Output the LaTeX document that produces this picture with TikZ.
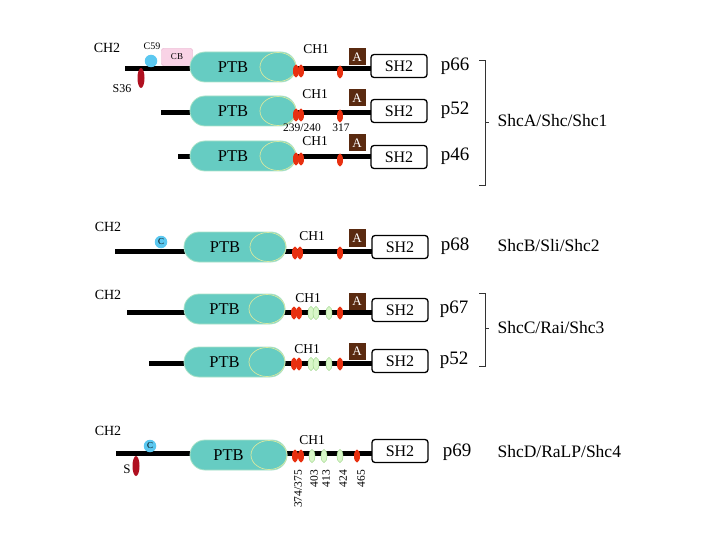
\documentclass[tikz,border=0pt]{standalone}
\usepackage{fontspec}
\setmainfont{Liberation Serif}
\usetikzlibrary{shapes.geometric}
\definecolor{ptbc}{RGB}{102,204,194}
\definecolor{ptbedge}{RGB}{170,226,200}
\definecolor{ptbinner}{RGB}{215,232,160}
\definecolor{redc}{RGB}{232,48,16}
\definecolor{darkredc}{RGB}{176,16,32}
\definecolor{cyanc}{RGB}{91,200,240}
\definecolor{pinkc}{RGB}{249,211,230}
\definecolor{pinkedge}{RGB}{229,168,200}
\definecolor{brownc}{RGB}{90,42,16}
\definecolor{greenc}{RGB}{216,246,200}
\definecolor{greenedge}{RGB}{150,210,130}
\tikzset{
  bb/.style={line width=5pt, black},
  ptbs/.style={fill=ptbc, draw=ptbedge, line width=0.8pt, rounded corners=15pt},
  ptbin/.style={draw=ptbinner, line width=0.7pt},
  redo/.style={ellipse, fill=redc, minimum width=6pt, minimum height=13pt, inner sep=0pt},
  greeno/.style={ellipse, fill=greenc, draw=greenedge, line width=0.4pt, minimum width=6pt, minimum height=13pt, inner sep=0pt},
  darko/.style={ellipse, fill=darkredc, minimum width=7pt, minimum height=20pt, inner sep=0pt},
  cyo/.style={circle, fill=cyanc, minimum size=12.5pt, inner sep=0pt, font=\fontsize{9}{9}\selectfont},
  abox/.style={fill=brownc, text=white, minimum width=17pt, minimum height=17pt, inner sep=0pt, font=\fontsize{13}{13}\selectfont},
  shtwo/.style={draw=black, fill=white, line width=1.3pt, rounded corners=3pt, minimum width=56pt, minimum height=23pt, inner sep=0pt, font=\fontsize{16}{16}\selectfont},
  chl/.style={font=\fontsize{13.5}{13.5}\selectfont},
  ch2/.style={font=\fontsize{14}{14}\selectfont},
  pl/.style={font=\fontsize{19}{19}\selectfont},
  fam/.style={anchor=west, font=\fontsize{17.5}{17.5}\selectfont},
  num/.style={font=\fontsize{11.5}{11.5}\selectfont, inner sep=0pt},
  rnum/.style={num, rotate=90, anchor=east},
  brk/.style={line width=0.6pt, black!80}
}
\newcommand\ptbdomain[5]{%
  \draw[ptbs] (#2,#4-15) rectangle (#3,#4+15);
  \draw[ptbin] ({#3-18},#4) ellipse (18 and 14.5);
  \node[font=\fontsize{16.5}{16.5}\selectfont] (#1) at ({(#2+#3)/2-10},#4) {#5};
}
\begin{document}
\begin{tikzpicture}[x=1pt,y=-1pt]
\useasboundingbox (0,0) rectangle (720,540);

% ---------- Row 1: p66 ----------
\coordinate (r1s) at (125,69);
\coordinate (r1e) at (380,69);
\draw[bb] (r1s) -- (r1e);
\node[ch2] (ch2a) at (107,48) {CH2};
\node[font=\fontsize{10}{10}\selectfont] (c59l) at (152,46) {C59};
\node[cyo] (c59) at (151,61) {};
\node[draw=pinkedge, fill=pinkc, rounded corners=2pt, minimum width=31pt, minimum height=17pt, inner sep=0pt, font=\fontsize{9}{9}\selectfont] (cb) at (177,57) {CB};
\node[darko] (s36) at (141,78) {};
\node[font=\fontsize{12}{12}\selectfont] (s36l) at (122,89) {S36};
\ptbdomain{ptb1}{190}{296}{67}{PTB}
\node[redo] (r1a) at (296,71) {};
\node[redo] (r1b) at (301,71) {};
\node[redo] (r1c) at (340,72) {};
\node[chl] (ch1a) at (316,49) {CH1};
\node[abox] (a1) at (357,57) {A};
\node[shtwo] (sh1) at (399,66) {SH2};
\node[pl] (p66) at (455,66) {p66};

% ---------- Row 2: p52 ----------
\coordinate (r2s) at (161,113);
\coordinate (r2e) at (380,113);
\draw[bb] (r2s) -- (r2e);
\ptbdomain{ptb2}{190}{296}{111}{PTB}
\node[redo] (r2a) at (296,115) {};
\node[redo] (r2b) at (301,115) {};
\node[redo] (r2c) at (340,116) {};
\node[chl] (ch1b) at (315,94) {CH1};
\node[abox] (a2) at (357,98) {A};
\node[shtwo] (sh2) at (399,111) {SH2};
\node[pl] (p52a) at (455,110) {p52};
\node[num] (n239) at (302,127.5) {239/240};
\node[num] (n317) at (341,127.5) {317};

% ---------- Row 3: p46 ----------
\coordinate (r3s) at (178,157);
\coordinate (r3e) at (380,157);
\draw[bb] (r3s) -- (r3e);
\ptbdomain{ptb3}{190}{296}{156}{PTB}
\node[redo] (r3a) at (296,159) {};
\node[redo] (r3b) at (301,159) {};
\node[redo] (r3c) at (340,160) {};
\node[chl] (ch1c) at (315,141) {CH1};
\node[abox] (a3) at (357,143) {A};
\node[shtwo] (sh3) at (399,157) {SH2};
\node[pl] (p46) at (455,156) {p46};

% bracket ShcA
\coordinate (ba1) at (479,60);
\coordinate (ba2) at (485,60);
\coordinate (ba3) at (485,185);
\coordinate (ba4) at (479,185);
\draw[brk] (ba1) -- (ba2) -- (ba3) -- (ba4);
\coordinate (bam) at (485,122);
\coordinate (bamt) at (489,122);
\draw[brk] (bam) -- (bamt);
\node[fam] (shca) at (494,121) {ShcA/Shc/Shc1};

% ---------- Row 4: p68 ----------
\coordinate (r4s) at (115,251);
\coordinate (r4e) at (380,251);
\draw[bb] (r4s) -- (r4e);
\node[ch2] (ch2b) at (108,227) {CH2};
\node[cyo] (cb4) at (161,242) {C};
\ptbdomain{ptb4}{184}{286}{247}{PTB}
\node[redo] (r4a) at (295,253) {};
\node[redo] (r4b) at (300,253) {};
\node[redo] (r4c) at (340,253) {};
\node[chl] (ch1d) at (312,236) {CH1};
\node[abox] (a4) at (357,238) {A};
\node[shtwo] (sh4) at (400,247) {SH2};
\node[pl] (p68) at (455,246) {p68};
\node[fam] (shcb) at (494,246) {ShcB/Sli/Shc2};

% ---------- Row 5: p67 ----------
\coordinate (r5s) at (127,312);
\coordinate (r5e) at (380,312);
\draw[bb] (r5s) -- (r5e);
\node[ch2] (ch2c) at (108,295) {CH2};
\ptbdomain{ptb5}{184}{285}{309}{PTB}
\node[redo] (r5a) at (294,313) {};
\node[redo] (r5b) at (299,313) {};
\node[greeno] (g5a) at (311,313) {};
\node[greeno] (g5b) at (316,313) {};
\node[greeno] (g5c) at (329,313) {};
\node[redo] (r5c) at (340,313) {};
\node[chl] (ch1e) at (308,298) {CH1};
\node[abox] (a5) at (357,301) {A};
\node[shtwo] (sh5) at (400,310) {SH2};
\node[pl] (p67) at (454,309) {p67};

% ---------- Row 6: p52 ----------
\coordinate (r6s) at (149,363);
\coordinate (r6e) at (380,363);
\draw[bb] (r6s) -- (r6e);
\ptbdomain{ptb6}{184}{285}{362}{PTB}
\node[redo] (r6a) at (294,364) {};
\node[redo] (r6b) at (299,364) {};
\node[greeno] (g6a) at (311,364) {};
\node[greeno] (g6b) at (316,364) {};
\node[greeno] (g6c) at (329,364) {};
\node[redo] (r6c) at (340,364) {};
\node[chl] (ch1f) at (307,349) {CH1};
\node[abox] (a6) at (357,351) {A};
\node[shtwo] (sh6) at (400,361) {SH2};
\node[pl] (p52b) at (454,360) {p52};

% bracket ShcC
\coordinate (bc1) at (479,293);
\coordinate (bc2) at (485,293);
\coordinate (bc3) at (485,366);
\coordinate (bc4) at (479,366);
\draw[brk] (bc1) -- (bc2) -- (bc3) -- (bc4);
\coordinate (bcm) at (485,328);
\coordinate (bcmt) at (489,328);
\draw[brk] (bcm) -- (bcmt);
\node[fam] (shcc) at (494,328) {ShcC/Rai/Shc3};

% ---------- Row 7: p69 ----------
\coordinate (r7s) at (116,453);
\coordinate (r7e) at (380,453);
\draw[bb] (r7s) -- (r7e);
\node[ch2] (ch2d) at (108,431) {CH2};
\node[cyo] (c7) at (150,446) {C};
\node[darko] (s7) at (136,466) {};
\node[font=\fontsize{13}{13}\selectfont] (s7l) at (127,469) {S};
\ptbdomain{ptb7}{190}{287}{455}{PTB}
\node[redo] (r7a) at (295,456) {};
\node[redo] (r7b) at (301,456) {};
\node[greeno] (g7a) at (312,456) {};
\node[greeno] (g7b) at (324,456) {};
\node[greeno] (g7c) at (340,456) {};
\node[redo] (r7c) at (357,456) {};
\node[chl] (ch1g) at (312,440) {CH1};
\node[shtwo] (sh7) at (400,451) {SH2};
\node[pl] (p69) at (457,452) {p69};
\node[fam] (shcd) at (494,452) {ShcD/RaLP/Shc4};
\node[rnum] (n374) at (298,470) {374/375};
\node[rnum] (n403) at (314,470) {403};
\node[rnum] (n413) at (326,470) {413};
\node[rnum] (n424) at (343,470) {424};
\node[rnum] (n465) at (361,470) {465};
\end{tikzpicture}
\end{document}
